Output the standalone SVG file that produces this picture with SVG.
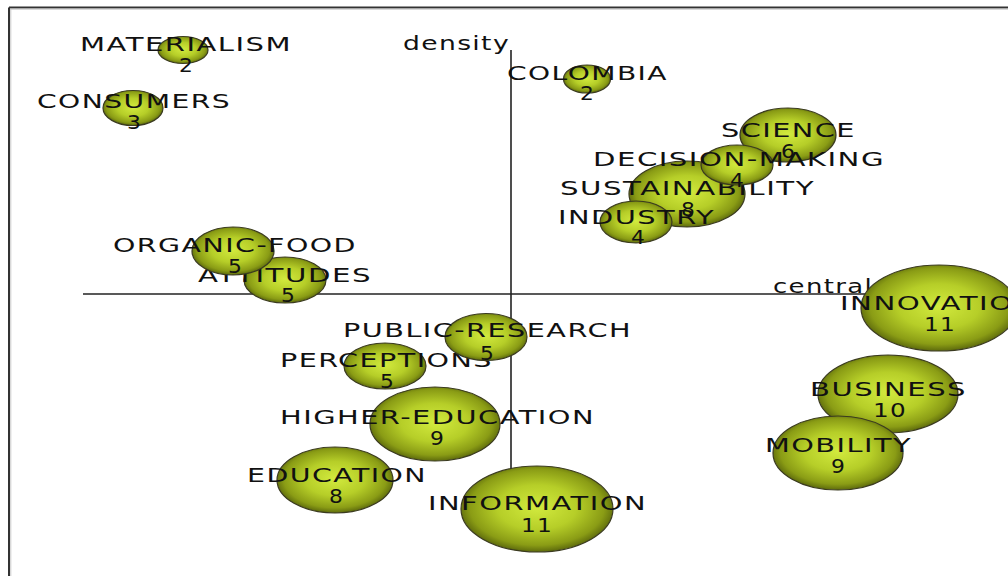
<svg xmlns="http://www.w3.org/2000/svg" width="1008" height="576" viewBox="0 0 1008 576">
<defs>
<radialGradient id="bub" cx="50%" cy="48%" r="52%">
<stop offset="0" stop-color="#d2ea3e"/>
<stop offset="0.5" stop-color="#b6ce28"/>
<stop offset="0.85" stop-color="#8a9c15"/>
<stop offset="1" stop-color="#5d6a0c"/>
</radialGradient>
<style>
.b{fill:url(#bub);stroke:#3b3b20;stroke-width:1.2}
.t{font-family:"DejaVu Sans","Liberation Sans",sans-serif;font-size:19.5px;fill:#111;letter-spacing:1px}
.ax{stroke:#222;stroke-width:1.6;fill:none}
</style>
</defs>
<rect width="1008" height="576" fill="#fff"/>
<g id="frame">
<line x1="9" y1="7.5" x2="9" y2="576" stroke="#333" stroke-width="2"/>
<line x1="9" y1="7.5" x2="1008" y2="7.5" stroke="#333" stroke-width="2"/>
<line x1="10.8" y1="9" x2="10.8" y2="576" stroke="#c8c8c8" stroke-width="1"/>
<line x1="10" y1="9.2" x2="1008" y2="9.2" stroke="#c8c8c8" stroke-width="1"/>
</g>
<g id="connectors">
<line class="ax" x1="83" y1="294" x2="940" y2="294"/>
<line class="ax" x1="511" y1="50" x2="511" y2="510"/>
<text class="t" x="403" y="50" textLength="107" lengthAdjust="spacingAndGlyphs">density</text>
<text class="t" x="773" y="293" textLength="100" lengthAdjust="spacingAndGlyphs">central</text>
</g>
<g id="n-innovation">
<ellipse class="b" cx="939" cy="308" rx="78" ry="43"/>
<text class="t" x="840" y="310" textLength="197" lengthAdjust="spacingAndGlyphs">INNOVATION</text>
<text class="t" x="924" y="331" textLength="32" lengthAdjust="spacingAndGlyphs">11</text>
</g>
<g id="n-information">
<ellipse class="b" cx="537" cy="509" rx="76" ry="43"/>
<text class="t" x="428" y="510" textLength="219" lengthAdjust="spacingAndGlyphs">INFORMATION</text>
<text class="t" x="521" y="532" textLength="32" lengthAdjust="spacingAndGlyphs">11</text>
</g>
<g id="n-business">
<ellipse class="b" cx="888" cy="394" rx="70" ry="39"/>
<text class="t" x="810" y="396" textLength="157" lengthAdjust="spacingAndGlyphs">BUSINESS</text>
<text class="t" x="873" y="417" textLength="34" lengthAdjust="spacingAndGlyphs">10</text>
</g>
<g id="n-higher-education">
<ellipse class="b" cx="435" cy="424" rx="65" ry="37"/>
<text class="t" x="280" y="424" textLength="315" lengthAdjust="spacingAndGlyphs">HIGHER-EDUCATION</text>
<text class="t" x="430" y="445" textLength="15" lengthAdjust="spacingAndGlyphs">9</text>
</g>
<g id="n-mobility">
<ellipse class="b" cx="838" cy="453" rx="65" ry="37"/>
<text class="t" x="765" y="452" textLength="147" lengthAdjust="spacingAndGlyphs">MOBILITY</text>
<text class="t" x="831" y="473" textLength="15" lengthAdjust="spacingAndGlyphs">9</text>
</g>
<g id="n-sustainability">
<ellipse class="b" cx="687" cy="194" rx="58" ry="33"/>
<text class="t" x="560" y="195" textLength="255" lengthAdjust="spacingAndGlyphs">SUSTAINABILITY</text>
<text class="t" x="681" y="216" textLength="15" lengthAdjust="spacingAndGlyphs">8</text>
</g>
<g id="n-education">
<ellipse class="b" cx="335" cy="480" rx="58" ry="33"/>
<text class="t" x="247" y="482" textLength="180" lengthAdjust="spacingAndGlyphs">EDUCATION</text>
<text class="t" x="329" y="503" textLength="15" lengthAdjust="spacingAndGlyphs">8</text>
</g>
<g id="n-science">
<ellipse class="b" cx="788" cy="135" rx="48" ry="27"/>
<text class="t" x="721" y="137" textLength="135" lengthAdjust="spacingAndGlyphs">SCIENCE</text>
<text class="t" x="781" y="158" textLength="15" lengthAdjust="spacingAndGlyphs">6</text>
</g>
<g id="n-attitudes">
<ellipse class="b" cx="285" cy="280" rx="41" ry="23"/>
<text class="t" x="198" y="282" textLength="174" lengthAdjust="spacingAndGlyphs">ATTITUDES</text>
<text class="t" x="281" y="302" textLength="15" lengthAdjust="spacingAndGlyphs">5</text>
</g>
<g id="n-organic-food">
<ellipse class="b" cx="233" cy="251" rx="41" ry="24"/>
<text class="t" x="113" y="252" textLength="244" lengthAdjust="spacingAndGlyphs">ORGANIC-FOOD</text>
<text class="t" x="228" y="273" textLength="15" lengthAdjust="spacingAndGlyphs">5</text>
</g>
<g id="n-perceptions">
<ellipse class="b" cx="385" cy="366" rx="41" ry="23"/>
<text class="t" x="280" y="367" textLength="213" lengthAdjust="spacingAndGlyphs">PERCEPTIONS</text>
<text class="t" x="380" y="388" textLength="15" lengthAdjust="spacingAndGlyphs">5</text>
</g>
<g id="n-public-research">
<ellipse class="b" cx="486" cy="337" rx="41" ry="23.5"/>
<text class="t" x="343" y="337" textLength="289" lengthAdjust="spacingAndGlyphs">PUBLIC-RESEARCH</text>
<text class="t" x="480" y="360" textLength="15" lengthAdjust="spacingAndGlyphs">5</text>
</g>
<g id="n-decision-making">
<ellipse class="b" cx="737" cy="165" rx="36" ry="20"/>
<text class="t" x="593" y="166" textLength="292" lengthAdjust="spacingAndGlyphs">DECISION-MAKING</text>
<text class="t" x="730" y="187" textLength="15" lengthAdjust="spacingAndGlyphs">4</text>
</g>
<g id="n-industry">
<ellipse class="b" cx="636" cy="222" rx="36" ry="21"/>
<text class="t" x="558" y="224" textLength="157" lengthAdjust="spacingAndGlyphs">INDUSTRY</text>
<text class="t" x="631" y="244" textLength="15" lengthAdjust="spacingAndGlyphs">4</text>
</g>
<g id="n-consumers">
<ellipse class="b" cx="133" cy="108" rx="30" ry="17.5"/>
<text class="t" x="37" y="108" textLength="194" lengthAdjust="spacingAndGlyphs">CONSUMERS</text>
<text class="t" x="127" y="129" textLength="15" lengthAdjust="spacingAndGlyphs">3</text>
</g>
<g id="n-materialism">
<ellipse class="b" cx="183" cy="50" rx="25" ry="13.5"/>
<text class="t" x="80" y="51" textLength="212" lengthAdjust="spacingAndGlyphs">MATERIALISM</text>
<text class="t" x="179" y="72" textLength="15" lengthAdjust="spacingAndGlyphs">2</text>
</g>
<g id="n-colombia">
<ellipse class="b" cx="587" cy="79" rx="23.5" ry="14"/>
<text class="t" x="507" y="80" textLength="161" lengthAdjust="spacingAndGlyphs">COLOMBIA</text>
<text class="t" x="580" y="100" textLength="15" lengthAdjust="spacingAndGlyphs">2</text>
</g>
</svg>
